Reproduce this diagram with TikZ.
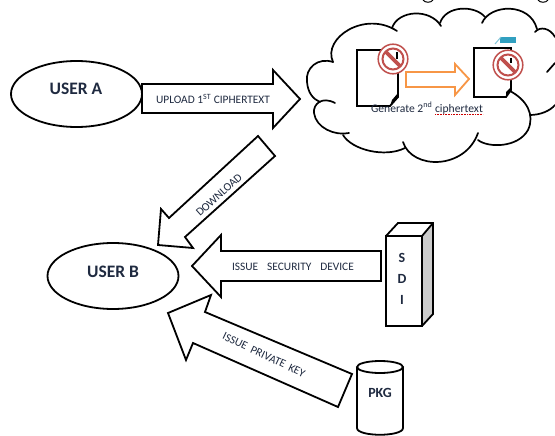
\documentclass[tikz,border=0pt]{standalone}
\usepackage{fontspec}
\setmainfont{Carlito}
\usetikzlibrary{calc}
\definecolor{prohib}{HTML}{C0504D}
\definecolor{orangea}{HTML}{F79646}
\definecolor{tealb}{HTML}{31A0C0}
\definecolor{lab}{HTML}{1F2A40}
\tikzset{
  x=1pt,y=-1pt,
  heavy/.style={draw=black,line width=1.8pt,line join=miter,fill=white},
  cloudline/.style={draw=black,line width=1.7pt,fill=none,line cap=round},
  userbox/.style={draw=black,line width=1.8pt,ellipse,minimum width=131,minimum height=66,inner sep=0,outer sep=0},
  usertext/.style={font=\bfseries\fontsize{17.5}{18}\selectfont,text=lab,inner sep=0},
  lbl/.style={font=\fontsize{11.4}{12}\selectfont,text=lab,inner sep=0pt},
  bold/.style={font=\bfseries\fontsize{14}{15}\selectfont,text=lab,inner sep=0pt}
}
\usetikzlibrary{shapes.geometric}
\newcommand{\nosign}[4]{%
  \draw[prohib,line width=1.5pt,fill=white] (#1,#2) circle (14.8);
  \draw[black,line width=1.6pt] (#3,#2-7) -- (#3,#2+#4);
  \draw[prohib,line width=2pt] (#1,#2) circle (10.5);
  \draw[prohib,line width=3.6pt] ($(#1,#2)+(-7.4,-7.4)$) -- ($(#1,#2)+(7.4,7.4)$);
}
\begin{document}
\begin{tikzpicture}
\useasboundingbox (0,0) rectangle (555,436);
\fill[white] (0,0) rectangle (555,436);
% clipped descenders at the top edge
\draw[black,line width=1pt] (423,0) .. controls (425,3) and (431,3) .. (433,0);
\draw[black,line width=1pt] (538,0) .. controls (540,3) and (546,3) .. (548,0);
% cloud
\draw[cloudline] (333,62) .. controls (322,38) and (365,10) .. (397,31);
\draw[cloudline] (392,28) .. controls (398,10) and (430,8) .. (441,26);
\draw[cloudline] (440,23) .. controls (446,5) and (475,5) .. (485,17);
\draw[cloudline] (482,23) .. controls (490,4) and (530,2) .. (537,29);
\draw[cloudline] (535,32) .. controls (540,26) and (550,28) .. (555,37);
\draw[cloudline] (333,62) .. controls (318,57) and (305,68) .. (307,82) .. controls (308,93) and (313,99) .. (320,102);
\draw[cloudline] (335,103) .. controls (322,96) and (313,104) .. (314,113) .. controls (316,128) and (335,136) .. (349,133);
\draw[cloudline] (343,135) .. controls (352,150) and (385,158) .. (405,148);
\draw[cloudline] (403,142) .. controls (412,170) and (465,170) .. (478,133);
\draw[cloudline] (478,140) .. controls (488,148) and (518,148) .. (528,130) .. controls (535,115) and (527,100) .. (510,91);
\draw[cloudline] (530,115) .. controls (540,115) and (550,111) .. (555,105);
\draw[cloudline] (547,72) -- (555,63);
% documents
\draw[black,line width=1.8pt] (357,50) -- (398,50) -- (398,97) -- (390,106) -- (357,106) -- cycle;
\draw[black,line width=1.8pt] (474,48) -- (511,48) -- (511,90) -- (506,97) -- (474,97) -- cycle;
\fill[black] (398,97) -- (398,93) -- (392,100) -- (390,106) -- cycle;
\fill[black] (511,90) -- (511,87) -- (506,92) -- (506,97) -- cycle;
\nosign{393}{59}{397}{0}
\nosign{508}{65}{511}{-2}
\fill[tealb] (500,37) rectangle (516,43);
\draw[tealb!60,line width=1pt] (495,44) -- (501,37);
% orange arrow
\draw[orangea,line width=1.8pt,fill=white] (406,72) -- (455,72) -- (455,64) -- (469,79) -- (455,95) -- (455,87) -- (406,87) -- cycle;
\node[font=\fontsize{11.6}{12}\selectfont,text=lab,inner sep=0pt] (gen) at (427,108) {Generate 2\textsuperscript{nd} ciphertext};
\draw[red!80!black,line width=.6pt,densely dotted] (435,114) -- (483,114);
% users
\node[userbox] (ua) at (76.5,94) {};
\node[usertext] at (76,89) {USER A};
\node[userbox] (ub) at (113,276) {};
\node[usertext] at (113,272) {USER B};
% arrows
\draw[heavy] (142,84) -- (273,84) -- (273,70) -- (300,99) -- (273,128) -- (273,113) -- (142,113) -- cycle;
\node[lbl] at (213,99) {UPLOAD 1\textsuperscript{ST} CIPHERTEXT};
\draw[heavy] (258,136) -- (275,156) -- (185,237) -- (193,248) -- (158,245) -- (161,209) -- (169,218) -- cycle;
\node[lbl,rotate=42] at (219,195) {DOWNLOAD};
\draw[heavy] (381,251) -- (221,251) -- (221,235) -- (192,266) -- (221,297) -- (221,281) -- (381,281) -- cycle;
\node[lbl] at (293,267) {ISSUE\;\; SECURITY\;\; DEVICE};
\draw[heavy] (352,374) -- (205,312) -- (211,295) -- (168,313) -- (186,360) -- (193,343) -- (338,407) -- cycle;
\node[lbl,rotate=-25.5] at (264,355) {ISSUE\, PRIVATE\, KEY};
% SDI
\fill[gray!40] (422,236) -- (433,223) -- (433,314) -- (422,326) -- cycle;
\draw[black,line width=1.8pt,fill=white] (386,236) rectangle (422,326);
\draw[black,line width=1.8pt,fill=none] (386,236) -- (398,223) -- (433,223) -- (433,314) -- (422,326) (422,236) -- (433,223);
\node[bold] at (402,258) {S};
\node[bold] at (402,279) {D};
\node[bold] at (402,300) {I};
% PKG
\draw[black,line width=1.8pt,fill=white] (357,367) -- (357,428) .. controls (357,437) and (403,437) .. (403,428) -- (403,367);
\draw[black,line width=1.8pt,fill=white] (380,367) ellipse (23 and 6);
\node[bold] at (380,393) {PKG};
\end{tikzpicture}
\end{document}
